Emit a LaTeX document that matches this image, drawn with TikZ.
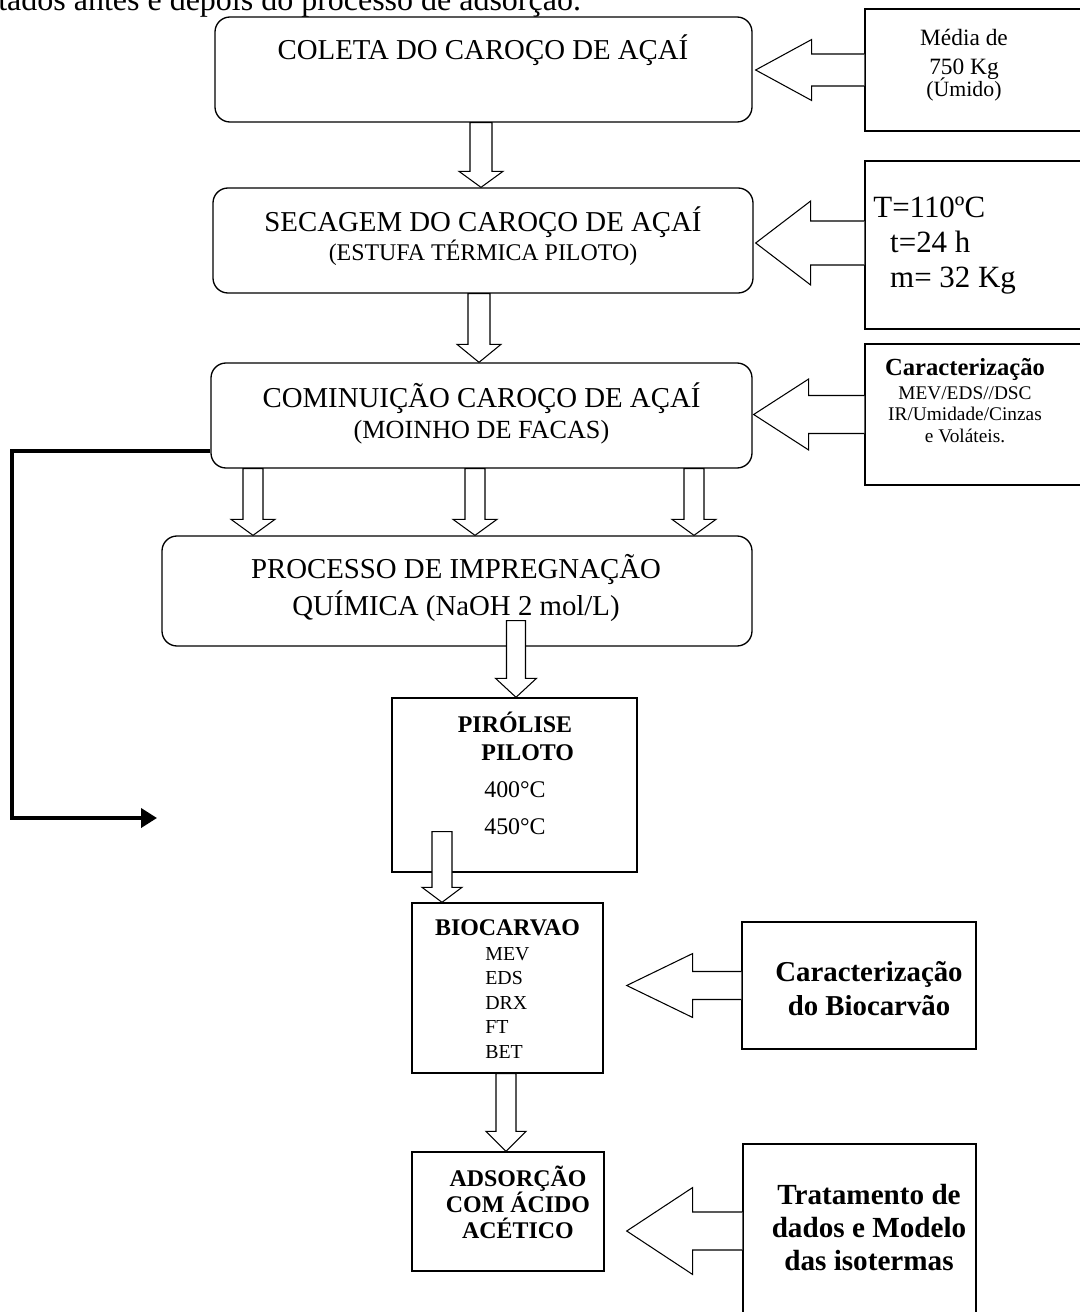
\documentclass[tikz,border=0pt]{standalone}
\usepackage{fontspec}
\setmainfont{Liberation Serif}
\usepackage{tikz}
\usetikzlibrary{arrows.meta, calc}
\setlength{\lineskiplimit}{-20pt}

% seta larga vazada para baixo: origem, ponta, meia haste, meia cabeca, comprimento da cabeca
\newcommand{\setabaixo}[5]{%
  \draw[bloco] let \p1=#1, \p2=#2 in
    (\x1-#3,\y1) -- (\x1+#3,\y1) -- (\x1+#3,\y2+#5) -- (\x1+#4,\y2+#5)
    -- (\x1,\y2) -- (\x1-#4,\y2+#5) -- (\x1-#3,\y2+#5) -- cycle;
}
% seta larga vazada para a esquerda
\newcommand{\setaesquerda}[5]{%
  \draw[bloco] let \p1=#1, \p2=#2 in
    (\x1,\y1+#3) -- (\x2+#5,\y1+#3) -- (\x2+#5,\y1+#4) -- (\x2,\y1)
    -- (\x2+#5,\y1-#4) -- (\x2+#5,\y1-#3) -- (\x1,\y1-#3);
}

\begin{document}
\begin{tikzpicture}[
  etapa/.style={draw, rounded corners=0.3cm, line width=0.75pt, inner sep=0pt},
  caixa/.style={draw, line width=0.8pt, inner sep=0pt},
  rotulo/.style={inner sep=0pt, align=center, anchor=base},
  bloco/.style={draw, fill=white, line width=0.6pt},
  retorno/.style={line width=2.2pt, -{Triangle[length=0.32cm, width=0.38cm]}}
]
  \useasboundingbox (0, 0) rectangle (21.58, -26.24);

  \node[rotulo, anchor=base west, font=\fontsize{18.2}{20}\selectfont] (topo) at (-0.04, -0.22) {tados antes e depois do processo de adsorção.};

  % Etapas do processo
  \node[etapa, minimum width=10.74cm, minimum height=2.10cm] (coleta) at (9.67, -1.39) {};
  \node[etapa, minimum width=10.80cm, minimum height=2.10cm] (secagem) at (9.66, -4.81) {};
  \node[etapa, minimum width=10.82cm, minimum height=2.10cm] (cominuicao) at (9.63, -8.31) {};
  \node[etapa, minimum width=11.80cm, minimum height=2.20cm] (processo) at (9.14, -11.82) {};
  \node[caixa, minimum width=4.90cm, minimum height=3.48cm] (pirolise) at (10.29, -15.70) {};
  \node[caixa, minimum width=3.82cm, minimum height=3.40cm] (biocarvao) at (10.15, -19.76) {};
  \node[caixa, minimum width=3.84cm, minimum height=2.38cm] (adsorcao) at (10.16, -24.23) {};

  % textos (base = ultima linha)
  \node[rotulo, font=\fontsize{16.4}{19}\selectfont] (coletatxt) at (9.66, -1.20) {COLETA DO CAROÇO DE AÇAÍ};
  \node[rotulo, font=\fontsize{16.4}{16.4}\selectfont] (secagemtxt) at (9.66, -5.20) {SECAGEM DO CAROÇO DE AÇAÍ\\{\fontsize{13.6}{16}\selectfont (ESTUFA TÉRMICA PILOTO)}};
  \node[rotulo, font=\fontsize{16.4}{17.6}\selectfont] (cominuicaotxt) at (9.63, -8.76) {COMINUIÇÃO CAROÇO DE AÇAÍ\\{\fontsize{14.9}{17}\selectfont (MOINHO DE FACAS)}};
  \node[rotulo, font=\fontsize{16.4}{21}\selectfont] (processotxt) at (9.12, -12.30) {PROCESSO DE IMPREGNAÇÃO\\QUÍMICA (NaOH 2 mol/L)};
  \node[rotulo, font=\fontsize{13.6}{15.9}\selectfont] (pirolisetxt) at (10.30, -16.68) {\textbf{PIRÓLISE}\\\hspace*{14.5pt}\textbf{PILOTO}\\[5.1pt]400°C\\[5.1pt]450°C};
  \node[rotulo, font=\bfseries\fontsize{13.6}{16}\selectfont] (biocarvaotxt) at (10.15, -18.70) {BIOCARVAO};
  \node[rotulo, anchor=base west, align=left, font=\fontsize{11.3}{13.9}\selectfont] (biolista) at (9.70, -21.16) {MEV\\EDS\\DRX\\FT\\BET};
  \node[rotulo, font=\bfseries\fontsize{13.6}{14.7}\selectfont] (adsorcaotxt) at (10.36, -24.76) {ADSORÇÃO\\COM ÁCIDO\\ACÉTICO};

  % Caixas laterais
  \node[caixa, minimum width=4.40cm, minimum height=2.44cm] (media) at (19.50, -1.40) {};
  \node[caixa, minimum width=4.40cm, minimum height=3.36cm] (condicoes) at (19.50, -4.90) {};
  \node[caixa, minimum width=4.40cm, minimum height=2.82cm] (caracter) at (19.50, -8.29) {};
  \node[caixa, minimum width=4.68cm, minimum height=2.54cm] (caracbio) at (17.18, -19.71) {};
  \node[caixa, minimum width=4.66cm, minimum height=3.72cm] (tratamento) at (17.19, -24.74) {};

  \node[rotulo, font=\fontsize{13.3}{13}\selectfont] (mediatxt) at (19.28, -1.94) {Média de\\[3.4pt]750 Kg\\{\fontsize{12.4}{13}\selectfont (Úmido)}};
  \node[rotulo, anchor=base west, align=left, font=\fontsize{17.6}{19.8}\selectfont] (condicoestxt) at (17.46, -5.74) {T=110ºC\\\hspace*{9.6pt}t=24 h\\\hspace*{9.6pt}m= 32 Kg};
  \node[rotulo, font=\fontsize{11}{12}\selectfont] (caractertxt) at (19.30, -8.84) {{\bfseries\fontsize{14}{12}\selectfont Caracterização}\\[1.6pt]MEV/EDS//DSC\\IR/Umidade/Cinzas\\e Voláteis.};
  \node[rotulo, font=\bfseries\fontsize{16.4}{19.3}\selectfont] (caracbiotxt) at (17.38, -20.30) {Caracterização\\do Biocarvão};
  \node[rotulo, font=\bfseries\fontsize{16.6}{18.7}\selectfont] (tratamentotxt) at (17.38, -25.40) {Tratamento de\\dados e Modelo\\das isotermas};

  % Setas entre as etapas
  \setabaixo{($(coleta.south)+(-0.05, 0)$)}{(secagem.north)}{0.22cm}{0.44cm}{0.32cm}
  \setabaixo{($(secagem.south)+(-0.08, 0)$)}{(cominuicao.north)}{0.22cm}{0.44cm}{0.36cm}
  \setabaixo{($(cominuicao.south)+(-4.57, 0)$)}{(processo.north)}{0.2cm}{0.44cm}{0.32cm}
  \setabaixo{($(cominuicao.south)+(-0.13, 0)$)}{(processo.north)}{0.2cm}{0.44cm}{0.32cm}
  \setabaixo{($(cominuicao.south)+(4.25, 0)$)}{(processo.north)}{0.2cm}{0.44cm}{0.32cm}
  \setabaixo{($(processo.south)+(1.18, 0.52)$)}{(pirolise.north)}{0.19cm}{0.41cm}{0.38cm}
  \setabaixo{($(pirolise.south)+(-1.45, 0.82)$)}{(biocarvao.north)}{0.2cm}{0.4cm}{0.3cm}
  \setabaixo{($(biocarvao.south)+(-0.03, 0)$)}{(adsorcao.north)}{0.2cm}{0.4cm}{0.4cm}

  % Setas das caixas laterais
  \setaesquerda{(media.west)}{($(coleta.east)+(0.06, 0)$)}{0.32cm}{0.61cm}{1.12cm}
  \setaesquerda{($(condicoes.west)+(0, 0.04)$)}{($(secagem.east)+(0.04, 0)$)}{0.44cm}{0.84cm}{1.1cm}
  \setaesquerda{(caracter.west)}{($(cominuicao.east)+(0.02, 0)$)}{0.38cm}{0.71cm}{1.1cm}
  \setaesquerda{(caracbio.west)}{($(biocarvao.east)+(0.46, 0)$)}{0.28cm}{0.64cm}{1.32cm}
  \setaesquerda{($(tratamento.west)+(0, 0.12)$)}{($(adsorcao.east)+(0.44, 0)$)}{0.38cm}{0.87cm}{1.32cm}

  % Retorno
  \coordinate (retornocanto) at (0.24, -16.36);
  \coordinate (retornofim) at (3.14, -16.36);
  \draw[retorno] ($(cominuicao.south west)+(0, 0.36)$) -| (retornocanto) -- (retornofim);
\end{tikzpicture}
\end{document}
